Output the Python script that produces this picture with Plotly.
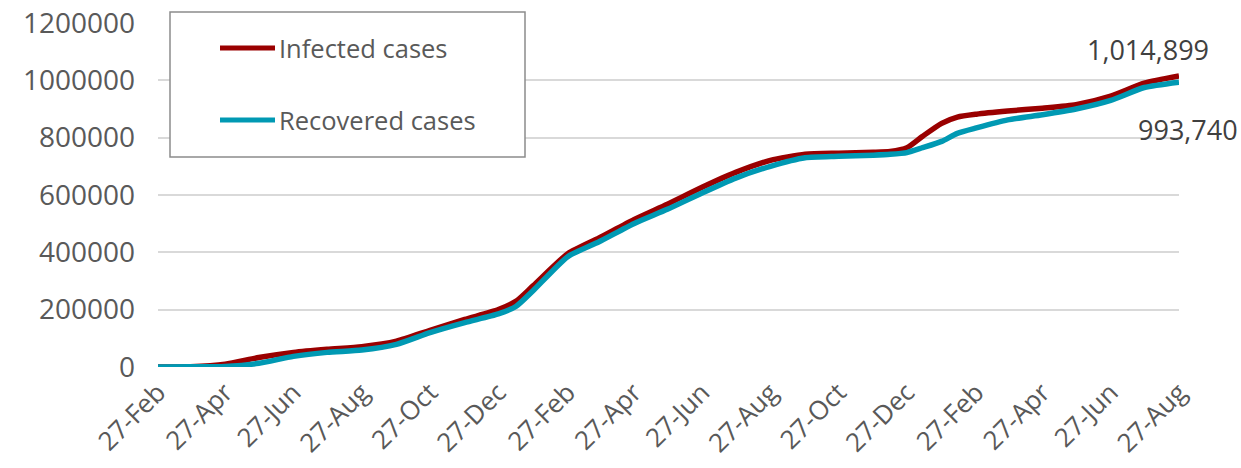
import plotly.graph_objects as go

# Monthly readings (27th of each month) with a few extra points where the curves bend
dates = [
    "2020-02-27", "2020-03-27", "2020-04-27", "2020-05-27", "2020-06-27",
    "2020-07-27", "2020-08-27", "2020-09-27", "2020-10-27", "2020-11-27",
    "2020-12-27", "2021-01-12", "2021-01-27", "2021-02-27", "2021-03-27",
    "2021-04-27", "2021-05-27", "2021-06-27", "2021-07-27", "2021-08-27",
    "2021-09-27", "2021-10-27", "2021-11-27", "2021-12-12", "2021-12-27",
    "2022-01-10", "2022-01-27", "2022-02-10", "2022-02-27", "2022-03-27",
    "2022-04-27", "2022-05-27", "2022-06-27", "2022-07-27", "2022-08-27",
]
infected = [
    0, 1000, 10000, 33000, 51000,
    62000, 71000, 90000, 128000, 166000,
    200000, 230000, 283000, 395000, 450000,
    514000, 568000, 627000, 679000, 721000,
    742000, 746000, 749000, 752000, 765000,
    805000, 850000, 872000, 882000, 893000,
    903000, 915000, 945000, 990000, 1014899,
]
recovered = [
    0, 500, 2000, 13000, 37000,
    51000, 59000, 79000, 120000, 155000,
    185000, 212000, 266000, 385000, 437000,
    500000, 550000, 607000, 659000, 700000,
    730000, 735000, 739000, 742000, 748000,
    765000, 787000, 815000, 834000, 862000,
    880000, 900000, 930000, 975000, 993740,
]

series_names = ["Infected cases", "Recovered cases"]
series_colors = ["#9a0000", "#0099b3"]

# Date-axis ticks every two months on the 27th
x_tick_dates = [
    "2020-02-27", "2020-04-27", "2020-06-27", "2020-08-27", "2020-10-27",
    "2020-12-27", "2021-02-27", "2021-04-27", "2021-06-27", "2021-08-27",
    "2021-10-27", "2021-12-27", "2022-02-27", "2022-04-27", "2022-06-27",
    "2022-08-27",
]
x_tick_labels = [
    "27-Feb", "27-Apr", "27-Jun", "27-Aug", "27-Oct", "27-Dec",
    "27-Feb", "27-Apr", "27-Jun", "27-Aug", "27-Oct", "27-Dec",
    "27-Feb", "27-Apr", "27-Jun", "27-Aug",
]
y_ticks = [0, 200000, 400000, 600000, 800000, 1000000, 1200000]

font_family = "Open Sans, Noto Sans, sans-serif"
axis_color = "#595959"

fig = go.Figure()
for name, values, color in zip(series_names, [infected, recovered], series_colors):
    fig.add_trace(go.Scatter(
        x=dates, y=values, name=name, mode="lines",
        line=dict(color=color, width=5.5, shape="spline", smoothing=0.6),
        showlegend=False,
    ))

# End-of-series value labels
fig.add_annotation(x=dates[-1], y=infected[-1], text=f"{infected[-1]:,}",
                   showarrow=False, xshift=-31, yshift=27,
                   font=dict(family=font_family, size=27, color="#404040"))
fig.add_annotation(x=dates[-1], y=recovered[-1], text=f"{recovered[-1]:,}",
                   showarrow=False, xshift=9, yshift=-47,
                   font=dict(family=font_family, size=27, color="#404040"))

# Boxed legend in the upper left of the plot
W, H = 1241, 468
ml, mr, mt, mb = 158, 62, 23, 101
pw, ph = W - ml - mr, H - mt - mb


def px(x):
    return (x - ml) / pw


def py(y):
    return 1 - (y - mt) / ph


fig.add_shape(type="rect", xref="paper", yref="paper",
              x0=px(170), x1=px(525), y0=py(157), y1=py(12),
              line=dict(color="#8c8c8c", width=1.5), fillcolor="white", layer="above")
for name, color, ypix in zip(series_names, series_colors, [48, 120]):
    fig.add_shape(type="line", xref="paper", yref="paper",
                  x0=px(220), x1=px(275), y0=py(ypix), y1=py(ypix),
                  line=dict(color=color, width=5), layer="above")
    fig.add_annotation(xref="paper", yref="paper", x=px(277), y=py(ypix),
                       text=name, showarrow=False, xanchor="left", yanchor="middle",
                       font=dict(family=font_family, size=25.5, color=axis_color))

fig.update_layout(
    width=W, height=H,
    margin=dict(l=ml, r=mr, t=mt, b=mb, autoexpand=False),
    paper_bgcolor="white", plot_bgcolor="white",
    font=dict(family=font_family, color=axis_color),
    xaxis=dict(
        type="date",
        range=["2020-02-27", "2022-08-27"],
        tickvals=x_tick_dates, ticktext=x_tick_labels,
        tickangle=-45, showgrid=False, zeroline=False, showline=False,
        tickfont=dict(size=26, color=axis_color),
        ticks="", ticklabelstandoff=4, automargin=False,
    ),
    yaxis=dict(
        range=[0, 1200000], tickvals=y_ticks,
        tickformat="d", showgrid=True, gridcolor="#d9d9d9", gridwidth=2,
        zeroline=False, showline=False,
        tickfont=dict(size=28, color=axis_color),
        ticks="", ticklabelstandoff=22, automargin=False,
    ),
)

fig.write_html("out.html")
